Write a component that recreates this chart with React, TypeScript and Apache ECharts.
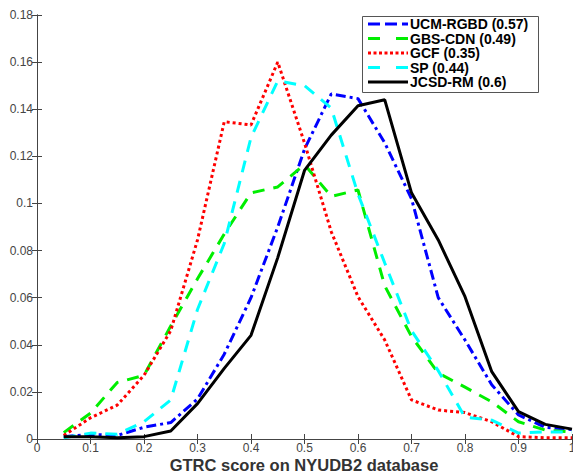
import React, { useEffect, useRef } from "react";
import * as echarts from "echarts";

const xs = [0.05, 0.1, 0.15, 0.2, 0.25, 0.3, 0.35, 0.4, 0.45, 0.5, 0.55, 0.6, 0.65, 0.7, 0.75, 0.8, 0.85, 0.9, 0.95, 1.0];

const seriesNames = ["UCM-RGBD (0.57)", "GBS-CDN (0.49)", "GCF (0.35)", "SP (0.44)", "JCSD-RM (0.6)"];

const ucm = [0.001, 0.002, 0.0015, 0.005, 0.007, 0.017, 0.036, 0.06, 0.09, 0.123, 0.1465, 0.1445, 0.1257, 0.102, 0.06, 0.042, 0.023, 0.0102, 0.005, 0.004];
const gbs = [0.0027, 0.011, 0.024, 0.027, 0.048, 0.068, 0.087, 0.1045, 0.107, 0.1165, 0.103, 0.1057, 0.065, 0.0435, 0.028, 0.022, 0.0158, 0.0073, 0.0038, 0.003];
const gcf = [0.0015, 0.009, 0.0144, 0.027, 0.046, 0.0845, 0.1347, 0.1333, 0.16, 0.1257, 0.088, 0.0604, 0.042, 0.0166, 0.0123, 0.0112, 0.0073, 0.001, 0.0005, 0.0005];
const sp = [0.0005, 0.0025, 0.002, 0.0073, 0.0166, 0.055, 0.083, 0.128, 0.152, 0.15, 0.1405, 0.104, 0.0747, 0.046, 0.029, 0.0092, 0.008, 0.0025, 0.003, 0.003];
const jcsd = [0.001, 0.001, 0.0005, 0.001, 0.0034, 0.015, 0.03, 0.044, 0.077, 0.114, 0.129, 0.1415, 0.144, 0.1045, 0.0845, 0.0604, 0.0286, 0.0116, 0.0062, 0.0042];

const xTicks = [0, 0.1, 0.2, 0.3, 0.4, 0.5, 0.6, 0.7, 0.8, 0.9, 1];
const yTicks = [0, 0.02, 0.04, 0.06, 0.08, 0.1, 0.12, 0.14, 0.16, 0.18];

const colors = ["#0000ff", "#00ee00", "#ff0000", "#00ffff", "#000000"];
const dashes: any[] = [[10, 4, 3, 4], [12, 9], [3, 3], [12, 9], "solid"];
const legendDashes: any[] = [[12, 5], [12, 16], [3, 2.5], [12, 16], null];

export default function App() {
  const ref = useRef<HTMLDivElement>(null);
  useEffect(() => {
    if (!ref.current) return;
    const chart = echarts.init(ref.current, null, { renderer: "svg" });
    const all = [ucm, gbs, gcf, sp, jcsd];
    const font = "'Liberation Sans', Arial, Helvetica, sans-serif";
    const axisLine = { show: true, lineStyle: { color: "#444", width: 1 } };
    const tick = { show: true, inside: true, length: 5, lineStyle: { color: "#444" } };

    const lx = 362, ly = 16, lw = 176, lh = 76, rowH = 14.5;
    const legendEls: any[] = [
      { type: "rect", shape: { x: lx + 0.5, y: ly + 0.5, width: lw, height: lh }, style: { fill: "#fff", stroke: "#555", lineWidth: 1 }, z: 100 },
    ];
    seriesNames.forEach((n, i) => {
      const cy = ly + 8 + i * rowH;
      legendEls.push({
        type: "line",
        shape: { x1: lx + 6, y1: cy, x2: lx + 46, y2: cy },
        style: { stroke: colors[i], lineWidth: 3, lineDash: legendDashes[i] },
        z: 101,
      });
      legendEls.push({
        type: "text",
        x: lx + 48,
        y: cy,
        style: { text: n, fill: "#000", font: `bold 14px ${font}`, verticalAlign: "middle", align: "left" },
        z: 101,
      });
    });

    chart.setOption({
      animation: false,
      backgroundColor: "#fff",
      grid: { left: 37, right: 1, top: 15, bottom: 33, containLabel: false, outerBoundsMode: "none" },
      graphic: [
        ...legendEls,
        {
          type: "text",
          x: 304,
          y: 464.5,
          style: { text: "GTRC score on NYUDB2 database", fill: "#333", font: `bold 16.5px ${font}`, align: "center", verticalAlign: "middle" },
        },
      ],
      xAxis: [
        {
          type: "value",
          min: 0,
          max: 1,
          interval: 0.1,
          position: "bottom",
          axisLine,
          axisTick: tick,
          axisLabel: { color: "#444", fontFamily: font, fontSize: 12, margin: 3, formatter: (v: number) => String(xTicks.find((t) => Math.abs(t - v) < 1e-9) ?? "") },
          splitLine: { show: false },
        },
        {
          type: "value",
          min: 0,
          max: 1,
          interval: 0.1,
          position: "top",
          axisLine,
          axisTick: tick,
          axisLabel: { show: false },
          splitLine: { show: false },
        },
      ],
      yAxis: [
        {
          type: "value",
          min: 0,
          max: 0.18,
          interval: 0.02,
          position: "left",
          axisLine,
          axisTick: tick,
          axisLabel: { color: "#444", fontFamily: font, fontSize: 12, margin: 4, formatter: (v: number) => String(yTicks.find((t) => Math.abs(t - v) < 1e-9) ?? "") },
          splitLine: { show: false },
        },
        {
          type: "value",
          min: 0,
          max: 0.18,
          interval: 0.02,
          position: "right",
          axisLine,
          axisTick: tick,
          axisLabel: { show: false },
          splitLine: { show: false },
        },
      ],
      series: all.map((vals, i) => ({
        name: seriesNames[i],
        type: "line",
        showSymbol: false,
        symbol: "none",
        data: xs.map((x, j) => [x, vals[j]]),
        lineStyle: { color: colors[i], width: 3, type: dashes[i] },
        itemStyle: { color: colors[i] },
        clip: true,
      })),
    });
    return () => chart.dispose();
  }, []);
  return <div ref={ref} style={{ width: 573, height: 472, position: "absolute", left: 0, top: 0 }} />;
}
